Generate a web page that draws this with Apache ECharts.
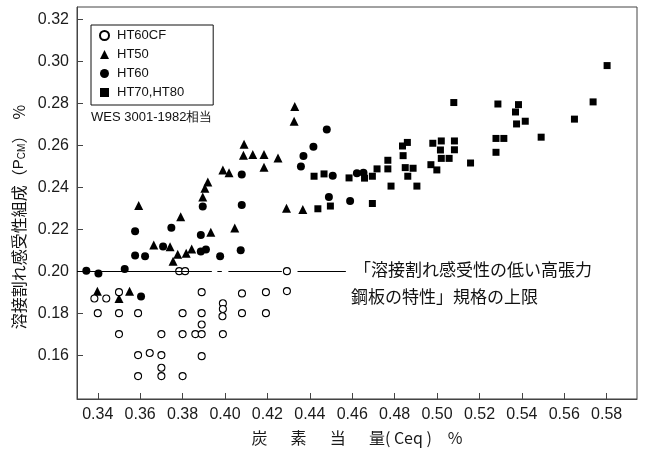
<!DOCTYPE html>
<html><head><meta charset="utf-8">
<script src="https://cdn.jsdelivr.net/npm/echarts@6/dist/echarts.min.js"></script>
<style>html,body{margin:0;padding:0;background:#fff}#c{width:645px;height:451px}</style>
</head><body><div id="c"></div>
<script>
const xTicks = [0.34,0.36,0.38,0.40,0.42,0.44,0.46,0.48,0.50,0.52,0.54,0.56,0.58];
const yTicks = [0.16,0.18,0.20,0.22,0.24,0.26,0.28,0.30,0.32];
const seriesNames = ['HT60CF','HT50','HT60','HT70,HT80'];

const ht60cfX = [0.3384,0.344,0.340,0.350,0.350,0.350,0.359,0.359,0.359,0.3645,0.370,0.370,0.370,0.370,0.3784,0.3812,0.380,0.380,0.380,0.386,0.389,0.389,0.389,0.389,0.389,0.399,0.399,0.3988,0.399,0.408,0.408,0.4193,0.4193,0.4292,0.4292];
const ht60cfY = [0.187,0.187,0.180,0.190,0.180,0.170,0.180,0.160,0.150,0.161,0.170,0.160,0.154,0.150,0.200,0.200,0.180,0.170,0.150,0.170,0.190,0.180,0.1746,0.170,0.1595,0.1847,0.182,0.1785,0.170,0.1894,0.180,0.190,0.180,0.1905,0.200];

const ht50X = [0.3398,0.350,0.355,0.3593,0.3664,0.3741,0.3755,0.3777,0.3791,0.3817,0.3843,0.3895,0.3905,0.3919,0.3933,0.399,0.4019,0.4046,0.409,0.4087,0.4131,0.4184,0.4184,0.425,0.4329,0.4326,0.429,0.4367];
const ht50Y = [0.1904,0.187,0.1904,0.2313,0.2125,0.2116,0.2047,0.208,0.2259,0.2085,0.2106,0.2353,0.2395,0.2424,0.2185,0.2482,0.2468,0.2206,0.2604,0.2552,0.2555,0.2555,0.2495,0.2539,0.2784,0.2714,0.230,0.2294];

const ht60X = [0.3346,0.3403,0.3527,0.3604,0.3576,0.3576,0.3623,0.3747,0.3708,0.3895,0.3886,0.3886,0.391,0.3977,0.4079,0.4079,0.4074,0.448,0.4417,0.437,0.4358,0.4508,0.449,0.459,0.4622,0.4653];
const ht60Y = [0.2002,0.1989,0.201,0.1879,0.219,0.2074,0.2071,0.2207,0.2117,0.2308,0.2172,0.2093,0.2103,0.2071,0.246,0.2315,0.2099,0.2675,0.2592,0.2548,0.2498,0.2454,0.2353,0.2334,0.2466,0.2469];

const ht70X = [0.442,0.4467,0.4438,0.4497,0.4585,0.4658,0.4695,0.4695,0.4717,0.4768,0.4768,0.4783,0.4837,0.486,0.484,0.485,0.4887,0.4862,0.4905,0.498,0.4971,0.4999,0.502,0.5082,0.5016,0.5082,0.502,0.5057,0.5079,0.5158,0.5287,0.5384,0.537,0.5416,0.5375,0.5278,0.5315,0.5278,0.5491,0.5648,0.5736,0.5802];
const ht70Y = [0.2452,0.2463,0.2297,0.231,0.2444,0.2443,0.2452,0.2322,0.2487,0.2528,0.2487,0.2405,0.2596,0.2613,0.255,0.2493,0.249,0.2452,0.2405,0.2609,0.2507,0.2482,0.262,0.262,0.2577,0.2578,0.2537,0.2537,0.2803,0.2515,0.2796,0.2793,0.2758,0.2714,0.2701,0.2632,0.2632,0.2566,0.2638,0.2724,0.2806,0.2979];

const refY = 0.20;
const refSegStart = [0.3302,0.3964,0.4016,0.4342];
const refSegEnd   = [0.3938,0.3985,0.4268,0.4570];

const zip = (xs, ys) => xs.map((x, i) => [x, ys[i]]);
const ink = '#000';
const font = '"Liberation Sans", Arial, sans-serif';
const narrow = '"Liberation Sans Narrow", "Liberation Sans", Arial, sans-serif';
const cjk = '"Noto Sans CJK JP", "Noto Sans", sans-serif';

const chart = echarts.init(document.getElementById('c'), null, {renderer: 'canvas'});
const refLines = refSegStart.map((s, i) => [{coord: [s, refY]}, {coord: [refSegEnd[i], refY]}]);

chart.setOption({
  animation: false,
  backgroundColor: '#fff',
  grid: {left: 77, top: 7, right: 8, bottom: 50, show: true, borderColor: '#444', borderWidth: 1},
  xAxis: {
    type: 'value', min: 0.3302, max: 0.5943,
    axisLine: {show: true, lineStyle: {color: '#444', width: 1}},
    axisTick: {show: true, inside: true, length: 6, customValues: xTicks, lineStyle: {color: '#444'}},
    axisLabel: {customValues: xTicks, formatter: v => v.toFixed(2), color: '#1a1a1a', fontSize: 16, fontFamily: font, margin: 8},
    splitLine: {show: false},
    name: '炭\u3000  素\u3000  当\u3000  量( Ceq )\u3000%', nameLocation: 'middle', nameGap: 31,
    nameTextStyle: {color: '#1a1a1a', fontSize: 16, fontFamily: cjk}
  },
  yAxis: {
    type: 'value', min: 0.1391, max: 0.3258,
    axisLine: {show: true, lineStyle: {color: '#444', width: 1}},
    axisTick: {show: true, inside: true, length: 6, customValues: yTicks, lineStyle: {color: '#444'}},
    axisLabel: {customValues: yTicks, formatter: v => v.toFixed(2), color: '#1a1a1a', fontSize: 16, fontFamily: font, margin: 8},
    splitLine: {show: false}
  },
  legend: {
    orient: 'vertical', left: 91, top: 25,
    data: seriesNames,
    itemWidth: 9, itemHeight: 9, itemGap: 6,
    borderColor: '#111', borderWidth: 1, borderRadius: 0,
    padding: [4, 29, 6, 8],
    textStyle: {color: '#111', fontSize: 13, fontFamily: narrow, lineHeight: 13, padding: [0, 0, 0, 3]},
    selectedMode: false
  },
  graphic: [
    {type: 'text', left: 91, top: 111, style: {text: 'WES 3001-1982相当', fill: '#111', font: '13px ' + narrow}},
    {type: 'text', left: 354, top: 261, style: {text: '「溶接割れ感受性の低い高張力', fill: '#111', font: '17px ' + cjk}},
    {type: 'text', left: 351, top: 288, style: {text: '鋼板の特性」規格の上限', fill: '#111', font: '17px ' + cjk}},
    {type: 'text', x: 19, y: 217, rotation: Math.PI / 2,
      style: {text: '溶接割れ感受性組成（{p|P}{c|CM}）　%', align: 'center', verticalAlign: 'middle', fill: '#111', font: '16px ' + cjk,
        rich: {p: {fontSize: 15, fontFamily: font, fill: '#111'}, c: {fontSize: 10, fontFamily: font, fill: '#111', verticalAlign: 'bottom'}}}}
  ],
  series: [
    {name: seriesNames[0], type: 'scatter', symbol: 'circle', symbolSize: 7, z: 3,
      itemStyle: {color: '#fff', borderColor: ink, borderWidth: 1.1, opacity: 1}, data: zip(ht60cfX, ht60cfY),
      markLine: {silent: true, symbol: 'none', label: {show: false}, lineStyle: {color: ink, width: 1, type: 'solid', opacity: 1}, data: refLines}},
    {name: seriesNames[1], type: 'scatter', symbol: 'triangle', symbolSize: 9, itemStyle: {color: ink, opacity: 1}, data: zip(ht50X, ht50Y)},
    {name: seriesNames[2], type: 'scatter', symbol: 'circle', symbolSize: 8, itemStyle: {color: ink, opacity: 1}, data: zip(ht60X, ht60Y)},
    {name: seriesNames[3], type: 'scatter', symbol: 'rect', symbolSize: 7, itemStyle: {color: ink, opacity: 1}, data: zip(ht70X, ht70Y)}
  ]
});
</script></body></html>
